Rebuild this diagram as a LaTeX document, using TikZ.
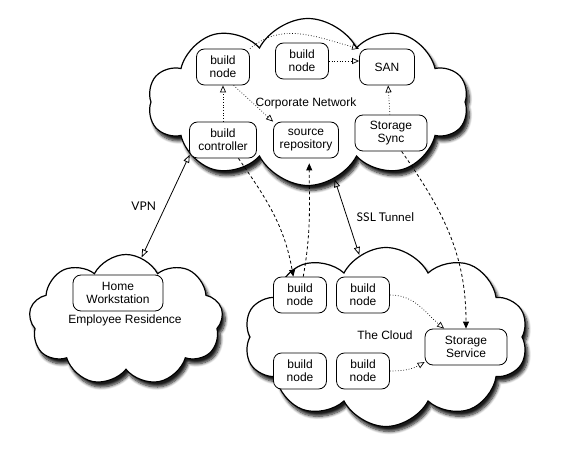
\documentclass[tikz,border=0pt]{standalone}
\usepackage{fontspec}
\setmainfont{Liberation Sans}
\newfontfamily\tunnelfont{Lato}
\usetikzlibrary{shapes.symbols,shadows.blur,arrows.meta,calc}

\begin{document}
\begin{tikzpicture}[x=1pt,y=1pt,line width=.8pt,font=\fontsize{12}{13}\selectfont,
	box/.style={draw,rounded corners=8pt,align=center,minimum height=36pt,inner sep=2pt,fill=white},
	cloudbox/.style={cloud,cloud puffs=10,cloud puff arc=125,cloud ignores aspect,draw,line width=1.2pt,fill=white,
		blur shadow={shadow xshift=3pt,shadow yshift=-5pt,shadow blur radius=3pt,shadow blur steps=8,shadow opacity=90}},
	feed/.style={dotted,line width=.7pt,-{Triangle[open,length=7pt,width=6pt]}},
	flow/.style={dash pattern=on 3pt off 2.5pt,-{Triangle[length=7pt,width=6pt]}},
	link/.style={{Triangle[open,length=8pt,width=6pt]}-{Triangle[open,length=8pt,width=6pt]}}]
	\useasboundingbox (0,0) rectangle (561,450);
	% the three networks
	\node[cloudbox,minimum width=320pt,minimum height=167pt] (corp) at (308,348) {};
	\node[cloudbox,cloud puffs=9,minimum width=194pt,minimum height=131pt] (res) at (126,130) {};
	\node[cloudbox,minimum width=284pt,minimum height=179pt] (cld) at (386,113) {};
	\node at (306,347) (corplabel) {Corporate Network};
	\node at (125,130) (reslabel) {Employee Residence};
	\node at (385,115) (cldlabel) {The Cloud};
	
	% corporate network
	\node[box,minimum width=53pt] (bn1) at (223,383) {build\\node};
	\node[box,minimum width=53pt] (bn2) at (302,389) {build\\node};
	\node[box,minimum width=55pt] (san) at (387,383) {SAN};
	\node[box,minimum width=67pt] (ctl) at (223,310) {build\\controller};
	\node[box,minimum width=65pt] (repo) at (306,310) {source\\repository};
	\node[box,minimum width=72pt] (sync) at (391,317) {Storage\\Sync};
	
	% residence
	\node[box,minimum width=90pt] (home) at (118,157) {Home\\Workstation};
	
	% the cloud
	\node[box,minimum width=53pt] (cn1) at (300,155) {build\\node};
	\node[box,minimum width=53pt] (cn2) at (363,155) {build\\node};
	\node[box,minimum width=53pt] (cn3) at (300,79) {build\\node};
	\node[box,minimum width=53pt] (cn4) at (363,79) {build\\node};
	\node[box,minimum width=82pt] (store) at (466,103) {Storage\\Service};
	
	\draw[feed] (bn1.north east) to[out=40,in=165] (san.north west);
	\draw[feed] (bn2.east) -- (bn2.east -| san.west);
	\draw[feed] (ctl) -- (bn1);
	\draw[feed] (bn1.-60) -- (repo.north west);
	\draw[feed] (sync) -- (san);
	\draw[feed] (cn2.east) to[out=0,in=140] (store.140);
	\draw[feed] (cn4.east) to[out=0,in=210] (store.200);
	
	\draw[flow] (ctl.-50) to[out=-55,in=100] (cn1.110);
	\draw[flow,shorten >=5pt] (cn1.80) to[out=80,in=-90] (repo.-80);
	\draw[flow] (sync.-60) to[out=-55,in=90] (store.north);
	
	\draw[link] (res.76) -- (corp.204) node[midway,left=6pt,font=\tunnelfont\fontsize{12}{13}\selectfont] (vpn) {VPN};
	\draw[link] (corp.289) -- (cld.108) node[midway,right=6pt,font=\tunnelfont\fontsize{12}{13}\selectfont] (ssl) {SSL Tunnel};
\end{tikzpicture}
\end{document}
